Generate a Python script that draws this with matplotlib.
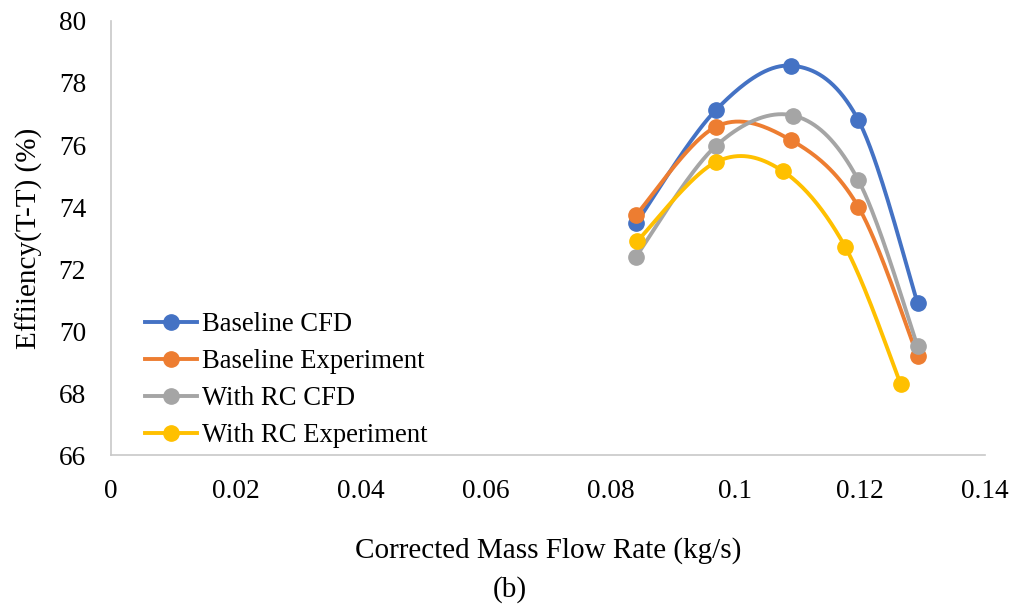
import numpy as np
import matplotlib.pyplot as plt

plt.rcParams['font.family'] = ['Liberation Serif', 'DejaVu Serif']

# mass flow rate (kg/s) and efficiency (%) for each series
x_base = [0.0841, 0.0969, 0.1089, 0.1197, 0.1292]
y_base_cfd = [73.47, 77.13, 78.56, 76.81, 70.91]
y_base_exp = [73.74, 76.59, 76.16, 74.01, 69.19]

x_rc_cfd = [0.0841, 0.0969, 0.1093, 0.1197, 0.1292]
y_rc_cfd = [72.40, 75.97, 76.95, 74.87, 69.52]

x_rc_exp = [0.0843, 0.0969, 0.1076, 0.1176, 0.1265]
y_rc_exp = [72.90, 75.45, 75.16, 72.72, 68.29]

labels = ["Baseline CFD", "Baseline Experiment", "With RC CFD", "With RC Experiment"]
colors = ["#4472C4", "#ED7D31", "#A5A5A5", "#FFC000"]

xticks = [0, 0.02, 0.04, 0.06, 0.08, 0.1, 0.12, 0.14]
xticklabels = ["0", "0.02", "0.04", "0.06", "0.08", "0.1", "0.12", "0.14"]
yticks = [66, 68, 70, 72, 74, 76, 78, 80]


def smooth(xs, ys, n=40):
    # Excel-style smoothed line: Catmull-Rom style Bezier segments
    p = np.column_stack([xs, ys]).astype(float)
    p = np.vstack([p[0], p, p[-1]])
    out = []
    t = np.linspace(0, 1, n)[:, None]
    for i in range(1, len(p) - 2):
        b0 = p[i]
        b1 = p[i] + (p[i + 1] - p[i - 1]) / 6
        b2 = p[i + 1] - (p[i + 2] - p[i]) / 6
        b3 = p[i + 1]
        seg = ((1 - t) ** 3) * b0 + 3 * ((1 - t) ** 2) * t * b1 + 3 * (1 - t) * t ** 2 * b2 + t ** 3 * b3
        out.append(seg)
    out = np.vstack(out)
    return out[:, 0], out[:, 1]


fig = plt.figure(figsize=(10.15, 6.12), dpi=100)
ax = fig.add_axes([0.1094, 0.2565, 0.8610, 0.7092])

series = [(x_base, y_base_cfd), (x_base, y_base_exp), (x_rc_cfd, y_rc_cfd), (x_rc_exp, y_rc_exp)]
for (xs, ys), lab, c in zip(series, labels, colors):
    sx, sy = smooth(xs, ys)
    ax.plot(sx, sy, color=c, lw=2.8, solid_capstyle='round')
    ax.plot(xs, ys, 'o', color=c, ms=11)
    ax.plot([], [], color=c, lw=2.8, marker='o', ms=11, label=lab)

ax.set_xlim(0, 0.14)
ax.set_ylim(66, 80)
ax.set_xticks(xticks)
ax.set_xticklabels(xticklabels)
ax.set_yticks(yticks)
ax.tick_params(length=0, labelsize=19.7)
ax.tick_params(axis='x', pad=17)
ax.tick_params(axis='y', pad=18)

for s in ['top', 'right']:
    ax.spines[s].set_visible(False)
for s in ['left', 'bottom']:
    ax.spines[s].set_color('#C8C8C8')
    ax.spines[s].set_linewidth(1.2)

ax.set_xlabel("Corrected Mass Flow Rate (kg/s)", fontsize=21, labelpad=24)
ax.set_ylabel("Effiiency(T-T) (%)", fontsize=21, labelpad=11)

ax.legend(loc='lower left', bbox_to_anchor=(0.039, 0.016), frameon=False, fontsize=19.2,
          handlelength=1.95, handletextpad=0.2, labelspacing=0.45, borderpad=0, borderaxespad=0)

fig.text(510, 612 - 590, "(b)", fontsize=21, ha='center', va='center', transform=None)

fig.savefig("out.png", dpi=100)
